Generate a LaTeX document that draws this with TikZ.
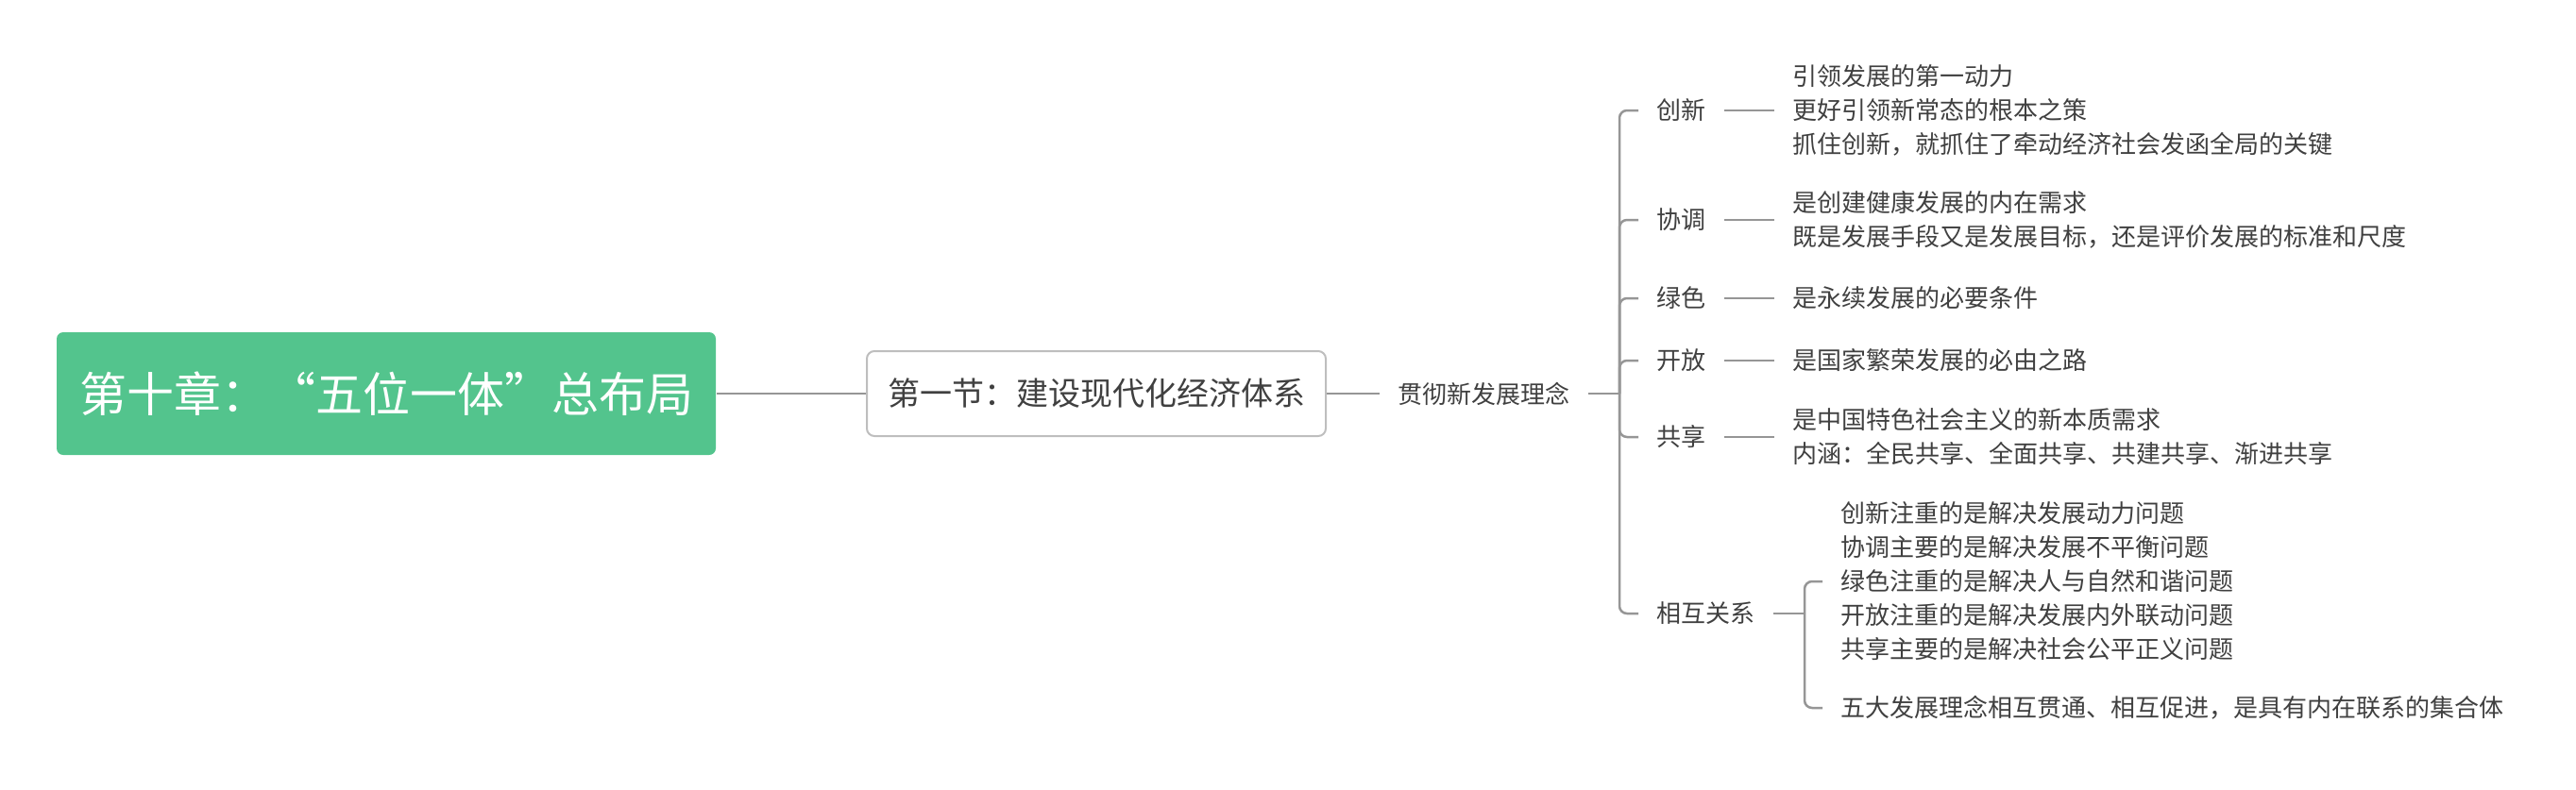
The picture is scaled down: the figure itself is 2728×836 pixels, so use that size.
\documentclass[tikz,border=0pt]{standalone}
\usepackage{fontspec}
\setmainfont{Noto Sans CJK SC}
\definecolor{topic}{RGB}{83,196,141}
\definecolor{ink}{RGB}{64,64,64}
\definecolor{wire}{RGB}{150,150,150}
\definecolor{rim}{RGB}{190,190,190}

\begin{document}
\begin{tikzpicture}[x=1pt,y=-1pt,
  line width=2.5pt,
  label/.style={inner xsep=18pt,inner ysep=0pt,anchor=west,text=ink,font=\fontsize{26}{36}\selectfont},
  leaf/.style={label,align=left},
  fork/.style={draw=wire,rounded corners=8pt}]
\useasboundingbox (0,0) rectangle (2728,836); % page frame

\node[fill=topic,rounded corners=7pt,minimum width=698pt,minimum height=130pt,inner sep=0pt,text=white,font=\fontsize{50}{60}\selectfont] (chap) at (409,417) {第十章：“五位一体”总布局}; % root
\node[draw=rim,fill=white,rounded corners=8pt,minimum width=486pt,minimum height=90pt,inner sep=0pt,line width=2pt,text=ink,font=\fontsize{34}{40}\selectfont] (sec) at (1161,417) {第一节：建设现代化经济体系}; % section
\node[label] (idea) at (1461,417) {贯彻新发展理念};

% five ideas
\node[label] (inno) at (1735,117) {创新};
\node[label] (coor) at (1735,233) {协调};
\node[label] (green) at (1735,316) {绿色};
\node[label] (open) at (1735,382) {开放};
\node[label] (share) at (1735,463) {共享};
\node[label] (rel) at (1735,650) {相互关系};

% leaves
\node[leaf] (innoL) at (1879,117) {引领发展的第一动力\\更好引领新常态的根本之策\\抓住创新，就抓住了牵动经济社会发函全局的关键};
\node[leaf] (coorL) at (1879,233) {是创建健康发展的内在需求\\既是发展手段又是发展目标，还是评价发展的标准和尺度};
\node[leaf] (greenL) at (1879,316) {是永续发展的必要条件};
\node[leaf] (openL) at (1879,382) {是国家繁荣发展的必由之路};
\node[leaf] (shareL) at (1879,463) {是中国特色社会主义的新本质需求\\内涵：全民共享、全面共享、共建共享、渐进共享};
\node[leaf] (relA) at (1930,616) {创新注重的是解决发展动力问题\\协调主要的是解决发展不平衡问题\\绿色注重的是解决人与自然和谐问题\\开放注重的是解决发展内外联动问题\\共享主要的是解决社会公平正义问题};
\node[leaf] (relB) at (1930,750) {五大发展理念相互贯通、相互促进，是具有内在联系的集合体};

\coordinate (j1) at (1715,417); % fork of the ideas
\coordinate (j2) at (1911,650); % fork of the relations

\draw[wire] (chap.east) -- (sec.west);
\draw[wire] (sec.east) -- (idea.west);
\draw[wire] (idea.east) -- (j1);
\foreach \n in {inno,coor,green,open,share,rel}
  \draw[fork] (j1) |- (\n.west);
\foreach \n in {inno,coor,green,open,share}
  \draw[wire] (\n.east) -- (\n L.west);
\draw[wire] (rel.east) -- (j2);
\draw[fork] (j2) |- (relA.west);
\draw[fork] (j2) |- (relB.west);
\end{tikzpicture}
\end{document}
